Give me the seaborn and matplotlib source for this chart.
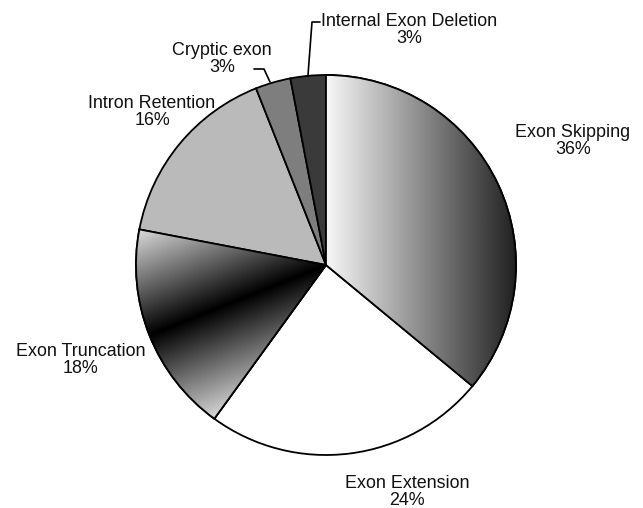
import numpy as np
import matplotlib
matplotlib.use("Agg")
import matplotlib.pyplot as plt
from matplotlib.patches import Wedge
import seaborn as sns

categories = ["Exon Skipping", "Exon Extension", "Exon Truncation",
              "Intron Retention", "Cryptic exon", "Internal Exon Deletion"]
percent = [36, 24, 18, 16, 3, 3]
tick_labels = [f"{c}\n{p}%" for c, p in zip(categories, percent)]

sns.set_theme(style="white")
plt.rcParams['font.family'] = ['Liberation Sans', 'DejaVu Sans']

W, H = 643, 508
fig = plt.figure(figsize=(W / 100, H / 100), dpi=100)
ax = fig.add_axes([0, 0, 1, 1])

cx, cy, R = 326, H - 265, 190
base_colors = ["#ffffff", "#ffffff", "#ffffff", "#bababa", "#7e7e7e", "#3a3a3a"]
wedges, _ = ax.pie(percent, colors=base_colors, startangle=90, counterclock=False,
                   center=(cx, cy), radius=R, frame=True,
                   wedgeprops=dict(edgecolor="black", linewidth=1.3))
ax.set_xlim(0, W)
ax.set_ylim(0, H)
ax.set_aspect("equal")
ax.axis("off")
for w in wedges:
    w.set_zorder(1)

# gradient for Exon Skipping (horizontal, light -> dark)
xs = np.linspace(0, 1, 256)
grad1 = np.tile(0.97 - 0.85 * xs, (2, 1))
im1 = ax.imshow(grad1, cmap="gray", vmin=0, vmax=1, aspect="auto",
                extent=[cx, cx + R + 2, cy - R - 2, cy + R + 2], zorder=2)
im1.set_clip_path(wedges[0])

# gradient for Exon Truncation (reflected, dark band through the bisector)
n = 400
x0, x1, y0, y1 = cx - R - 2, cx + 2, cy - R - 2, cy + 60
gx, gy = np.meshgrid(np.linspace(x0, x1, n), np.linspace(y0, y1, n))
u = np.array([-176.0, -70.0]); u /= np.linalg.norm(u)
nrm = np.array([u[1], -u[0]])
d = (gx - cx) * nrm[0] + (gy - cy) * nrm[1]
val = np.clip(np.abs(d) / 120.0, 0, 0.92)
im2 = ax.imshow(val, cmap="gray", vmin=0, vmax=1, origin="lower", aspect="auto",
                extent=[x0, x1, y0, y1], zorder=2)
im2.set_clip_path(wedges[2])

# redraw edges on top of the gradients
for w in [wedges[0], wedges[2]]:
    ax.add_patch(Wedge((cx, cy), R, w.theta1, w.theta2, fill=False,
                       edgecolor="black", linewidth=1.3, zorder=3))

label_pos = [(573, 141), (407, 492), (81, 360), (152, 112), (222, 59), (409, 30)]
for lab, (px, py) in zip(tick_labels, label_pos):
    ax.text(px, H - py, lab, ha="center", va="center", fontsize=12.9,
            color="#111111", linespacing=1.0, zorder=5)

# leader lines
ax.plot([254, 264, 270], [H - 69, H - 69, H - 82], color="black", lw=1.2, zorder=5)
ax.plot([320, 312, 308], [H - 22, H - 22, H - 75], color="black", lw=1.2, zorder=5)

fig.savefig("out.png", dpi=100, facecolor="white")
